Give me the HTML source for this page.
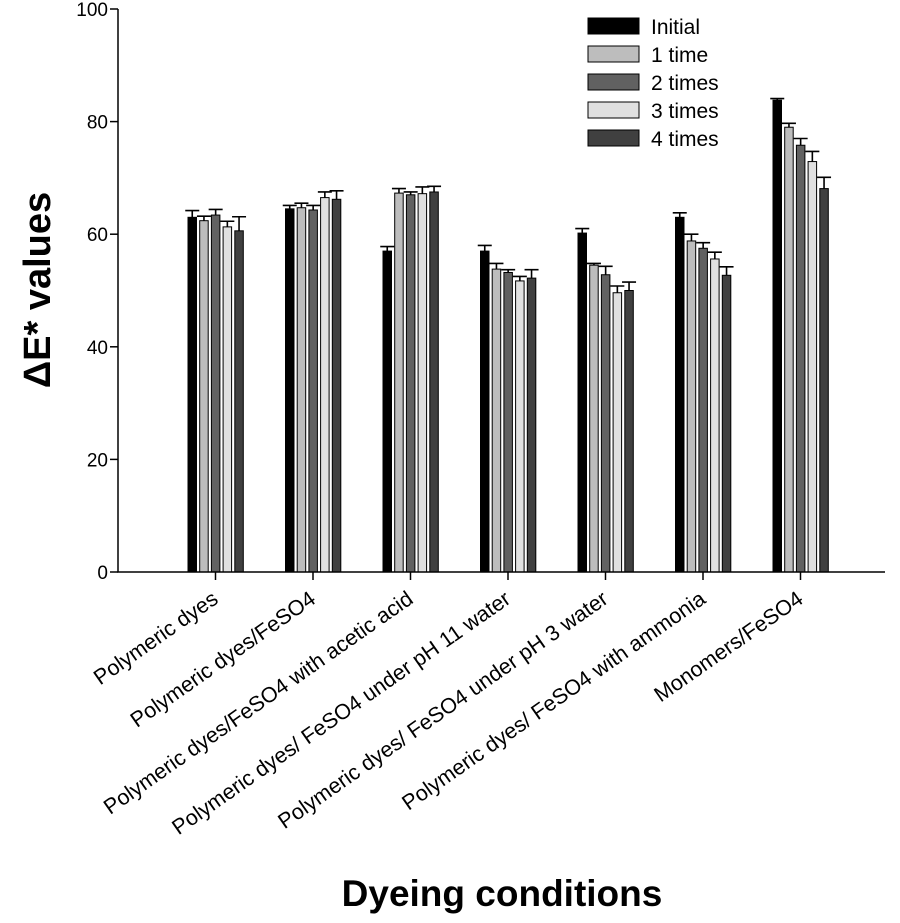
<!DOCTYPE html>
<html><head><meta charset="utf-8"><style>
html,body{margin:0;padding:0;background:#fff}
svg text{font-family:"Liberation Sans",Arial,sans-serif}
</style></head><body>
<svg id="chart" width="900" height="918" viewBox="0 0 900 918" xmlns="http://www.w3.org/2000/svg">
<g id="plot"></g>
<text transform="translate(50,290) rotate(-90)" text-anchor="middle" font-size="38" font-weight="bold">ΔE* values</text>
<text x="502" y="906" text-anchor="middle" font-size="37" font-weight="bold">Dyeing conditions</text>
</svg>
<script>
const categories=["Polymeric dyes","Polymeric dyes/FeSO4","Polymeric dyes/FeSO4 with acetic acid","Polymeric dyes/ FeSO4 under pH 11 water","Polymeric dyes/ FeSO4 under pH 3 water","Polymeric dyes/ FeSO4 with ammonia","Monomers/FeSO4"];
const seriesNames=["Initial","1 time","2 times","3 times","4 times"];
const seriesColors=["#000000","#bdbdbd","#616161","#e0e0e0","#404040"];
const sInitial=[63,64.5,57,57,60.2,63,83.8];
const s1=[62.4,64.7,67.3,53.8,54.5,58.8,79];
const s2=[63.4,64.3,67,53.2,52.8,57.5,75.8];
const s3=[61.3,66.5,67.2,51.7,49.6,55.6,72.9];
const s4=[60.6,66.2,67.5,52.2,50,52.7,68.1];
const eInitial=[1.2,0.6,0.8,1,0.8,0.8,0.3];
const e1=[0.8,0.8,0.8,1,0.3,1.2,0.7];
const e2=[1,0.8,0.5,0.5,1.5,1,1.2];
const e3=[1,1,1.2,0.8,1.2,1.2,1.8];
const e4=[2.5,1.5,1,1.5,1.5,1.5,2];
const yTicks=[0,20,40,60,80,100];
const series=[sInitial,s1,s2,s3,s4];
const errs=[eInitial,e1,e2,e3,e4];
const NS="http://www.w3.org/2000/svg";
const g=document.getElementById('plot');
const x0=118,x1=885,yb=572,yt=9;
const y=v=>yb-(v/100)*(yb-yt);
const groupStart=i=>188+97.5*i;
const groupCenter=i=>groupStart(i)+27.5;
const barX=(i,s)=>groupStart(i)+s*11.7;
const bw=8.5;
function mk(tag,attrs){const e=document.createElementNS(NS,tag);for(const k in attrs)e.setAttribute(k,attrs[k]);g.appendChild(e);return e;}
series.forEach((arr,s)=>{arr.forEach((v,i)=>{
 const r=mk('rect',{x:barX(i,s),y:y(v),width:bw,height:yb-y(v),fill:seriesColors[s],stroke:'#000','stroke-width':1});
 
 
 const cx=barX(i,s)+bw/2, top=y(v+errs[s][i]);
 const l=mk('path',{d:`M${cx},${y(v)}V${top}M${cx-7},${top}H${cx+7}`,stroke:'#000','stroke-width':1.6,fill:'none'});
 
 
});});
const ax=mk('path',{d:`M${x0},${yt}V${yb}H${x1}`,stroke:'#000','stroke-width':1.5,fill:'none'});


yTicks.forEach(t=>{
 const tk=mk('line',{x1:x0-8,x2:x0,y1:y(t),y2:y(t),stroke:'#000','stroke-width':1.5});
 
 
 const tx=mk('text',{x:x0-10,y:y(t)+7,'text-anchor':'end','font-size':19});
 tx.textContent=t;
 
 
});
categories.forEach((c,i)=>{
 const cx=groupCenter(i);
 const tk=mk('line',{x1:cx,x2:cx,y1:yb,y2:yb+8,stroke:'#000','stroke-width':1.5});
 
 
 const tx=mk('text',{transform:`translate(${cx+4},${yb+30}) rotate(-35)`,'text-anchor':'end','font-size':21.5});
 tx.textContent=c;
 
 
});
seriesNames.forEach((n,s)=>{
 const yy=18+s*28;
 const r=mk('rect',{x:588,y:yy,width:51,height:16,fill:seriesColors[s],stroke:'#000','stroke-width':1});
 
 
 const t=mk('text',{x:651,y:yy+16,'font-size':21});
 t.textContent=n;
 
 
});
</script>
</body></html>
